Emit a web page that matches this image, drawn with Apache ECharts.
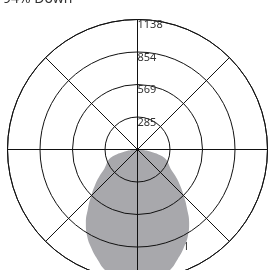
<!DOCTYPE html>
<html>
<head>
<meta charset="utf-8">
<script src="https://cdn.jsdelivr.net/npm/echarts@6/dist/echarts.min.js"></script>
<style>
html,body{margin:0;padding:0;background:#fff;}
#c{width:268px;height:270px;}
</style>
</head>
<body>
<div id="c"></div>
<script>
// Angles from nadir (degrees) and intensity (cd), symmetric distribution
const nadirAngles = [0, 5, 10, 15, 20, 25, 30, 35, 40, 45, 50, 55, 60, 65, 70, 75, 80, 85, 90];
const candela =     [1190, 1177, 1142, 1094, 1024, 954, 880, 788, 674, 573, 486, 407, 335, 300, 270, 215, 125, 50, 0];
const ringLabels = ['285', '569', '854', '1138'];
const radiusMax = 1138;
const titleText = '94% Down';
const curveName = '1';

const data = [];
// right side: angle 90 (right) -> 180 (down)
for (let i = nadirAngles.length - 1; i >= 0; i--) data.push([candela[i], 180 - nadirAngles[i]]);
// left side: 180 (down) -> 270 (left)
for (let i = 1; i < nadirAngles.length; i++) data.push([candela[i], 180 + nadirAngles[i]]);

const chart = echarts.init(document.getElementById('c'), null, {renderer: 'canvas'});
chart.setOption({
  animation: false,
  backgroundColor: '#fff',
  title: {
    text: titleText,
    left: 3, top: -8, padding: 0,
    textStyle: {fontFamily: 'Noto Sans', fontSize: 14, fontWeight: 'normal', color: '#333'}
  },
  polar: {center: [137.5, 149.5], radius: 130},
  angleAxis: {
    type: 'value', min: 0, max: 360, interval: 45, startAngle: 90, clockwise: true,
    z: 5,
    axisLine: {show: true, lineStyle: {color: '#111', width: 1}},
    axisTick: {show: false},
    axisLabel: {show: false},
    splitLine: {show: true, lineStyle: {color: '#111', width: 1}}
  },
  radiusAxis: {
    type: 'value', min: 0, max: radiusMax, interval: radiusMax / 4,
    z: 5,
    axisLine: {show: false},
    axisTick: {show: false},
    splitLine: {show: true, lineStyle: {color: '#111', width: 1}},
    axisLabel: {
      show: true, inside: true, margin: 0,
      align: 'left', verticalAlign: 'top',
      fontFamily: 'Noto Sans', fontSize: 11, color: '#333',
      formatter: function (v, i) { return i === 0 ? '' : (ringLabels[i - 1] || ''); }
    }
  },
  graphic: [{
    type: 'text', left: 183, top: 241,
    style: {text: curveName, fontFamily: 'Noto Sans', fontSize: 11, fill: '#333'}
  }],
  series: [{
    type: 'line', coordinateSystem: 'polar', name: curveName,
    data: data, smooth: true, symbol: 'none', z: 1, clip: false,
    lineStyle: {width: 0, color: '#a8a8ac'},
    areaStyle: {color: '#a8a8ac', opacity: 1}
  }]
});
</script>
</body>
</html>
